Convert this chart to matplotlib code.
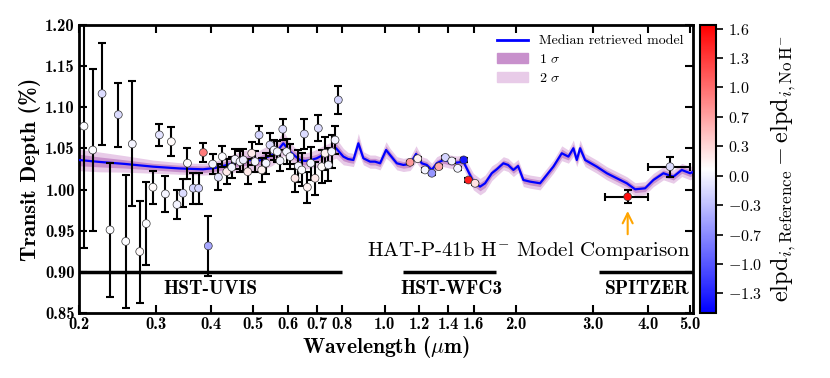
import numpy as np
import matplotlib
matplotlib.use("Agg")
import matplotlib.pyplot as plt
from matplotlib.colors import Normalize
from matplotlib.lines import Line2D
from matplotlib.patches import Patch

plt.rcParams['font.family'] = ['cmr10']
plt.rcParams['mathtext.fontset'] = 'cm'
plt.rcParams['axes.formatter.use_mathtext'] = True
plt.rcParams['axes.unicode_minus'] = False

# ---------------- data ----------------
# Median retrieved model (wavelength in micron, transit depth in %)
model_wl = [0.200, 0.2234, 0.2549, 0.2954, 0.3405, 0.3844, 0.4095, 0.4362, 0.4671, 0.4924,
            0.5109, 0.5329, 0.5529, 0.5707, 0.5868, 0.5984, 0.6079, 0.6241, 0.6408, 0.6579,
            0.679, 0.6997, 0.7234, 0.7505, 0.7747, 0.805, 0.8252, 0.8486, 0.8712, 0.8945,
            0.9266, 0.9513, 0.9768, 1.0081, 1.0296, 1.0666, 1.1043, 1.144, 1.1807, 1.2167,
            1.2491, 1.2825, 1.3167, 1.3633, 1.4123, 1.4631, 1.5149, 1.5553, 1.5969, 1.6543,
            1.6984, 1.7594, 1.8063, 1.8702, 1.9172, 1.9714, 2.021, 2.078, 2.1528, 2.2692,
            2.4338, 2.544, 2.634, 2.7044, 2.7532, 2.8016, 2.8766, 3.0594, 3.225, 3.4,
            3.5836, 3.7436, 3.946, 4.122, 4.3456, 4.58, 4.787, 5.002, 5.08]
model_depth = [1.0359, 1.0335, 1.0311, 1.0278, 1.0256, 1.0246, 1.0262, 1.0299, 1.0339, 1.0359,
               1.0339, 1.0384, 1.0420, 1.0480, 1.0562, 1.0505, 1.0460, 1.0408, 1.0359, 1.0347,
               1.0359, 1.0380, 1.0420, 1.0460, 1.0502, 1.0400, 1.0371, 1.0359, 1.0562, 1.0380,
               1.0339, 1.0339, 1.0319, 1.0481, 1.0420, 1.0319, 1.0299, 1.0311, 1.0432, 1.0319,
               1.0299, 1.0238, 1.0319, 1.0359, 1.0339, 1.0327, 1.0339, 1.0217, 1.0096, 1.0035,
               1.0076, 1.0198, 1.0246, 1.0319, 1.0299, 1.0238, 1.0286, 1.0116, 1.0096, 1.0076,
               1.0278, 1.0441, 1.0400, 1.0502, 1.0359, 1.0502, 1.0359, 1.0278, 1.0198, 1.0137,
               1.0076, 1.0003, 1.0015, 1.0116, 1.0198, 1.0156, 1.0238, 1.0198, 1.0214]
sigma1 = [0.007, 0.006, 0.005, 0.004, 0.004, 0.004, 0.004, 0.005, 0.005, 0.006,
          0.005, 0.006, 0.006, 0.006, 0.007, 0.006, 0.005, 0.005, 0.005, 0.005,
          0.005, 0.005, 0.005, 0.005, 0.006, 0.005, 0.004, 0.004, 0.006, 0.004,
          0.004, 0.004, 0.004, 0.005, 0.004, 0.004, 0.004, 0.004, 0.005, 0.004,
          0.004, 0.004, 0.004, 0.004, 0.004, 0.004, 0.004, 0.004, 0.005, 0.005,
          0.005, 0.004, 0.004, 0.004, 0.004, 0.004, 0.004, 0.004, 0.004, 0.004,
          0.004, 0.005, 0.004, 0.005, 0.004, 0.005, 0.004, 0.004, 0.004, 0.004,
          0.004, 0.004, 0.004, 0.004, 0.004, 0.004, 0.004, 0.004, 0.004]
sigma2 = [0.013, 0.012, 0.010, 0.008, 0.007, 0.007, 0.008, 0.010, 0.012, 0.013,
          0.012, 0.013, 0.013, 0.013, 0.015, 0.013, 0.011, 0.010, 0.010, 0.010,
          0.010, 0.011, 0.011, 0.011, 0.012, 0.010, 0.008, 0.008, 0.012, 0.008,
          0.008, 0.008, 0.008, 0.010, 0.008, 0.008, 0.008, 0.008, 0.010, 0.008,
          0.008, 0.008, 0.008, 0.008, 0.008, 0.008, 0.008, 0.009, 0.010, 0.010,
          0.010, 0.009, 0.008, 0.008, 0.008, 0.008, 0.008, 0.008, 0.008, 0.008,
          0.008, 0.009, 0.008, 0.010, 0.008, 0.010, 0.008, 0.008, 0.008, 0.008,
          0.008, 0.008, 0.008, 0.008, 0.008, 0.008, 0.008, 0.008, 0.008]

# HST-UVIS observations
uvis_wl = [0.2053, 0.215, 0.2258, 0.2355, 0.246, 0.2558, 0.2648, 0.2754, 0.285, 0.2953,
           0.3054, 0.3152, 0.3253, 0.3351, 0.3459, 0.3541, 0.3651, 0.3756, 0.385, 0.3952,
           0.4045, 0.4167, 0.4255, 0.4355, 0.4471, 0.455, 0.467, 0.4753, 0.4864, 0.4968,
           0.5055, 0.5163, 0.5237, 0.5356, 0.547, 0.5587, 0.5685, 0.5767, 0.585, 0.597,
           0.608, 0.624, 0.635, 0.6466, 0.6555, 0.666, 0.678, 0.6934, 0.7056, 0.7183,
           0.731, 0.744, 0.757, 0.7706, 0.784]
uvis_depth = [1.077, 1.048, 1.1165, 0.951, 1.091, 0.937, 1.0554, 0.9246, 0.9586, 1.0028,
              1.0664, 0.9947, 1.0582, 0.9817, 0.9955, 1.032, 1.0016, 1.0016, 1.045, 0.9315,
              1.031, 1.015, 1.040, 1.0217, 1.027, 1.0368, 1.0339, 1.036, 1.0217, 1.0441,
              1.0339, 1.0663, 1.0238, 1.032, 1.0542, 1.048, 1.046, 1.035, 1.0733, 1.046,
              1.040, 1.0137, 1.0286, 1.0238, 1.0675, 1.0028, 1.032, 1.0137, 1.0745, 1.0278,
              1.0441, 1.0299, 1.046, 1.0602, 1.1089]
uvis_err = [0.148, 0.098, 0.062, 0.081, 0.039, 0.081, 0.076, 0.062, 0.050, 0.020,
            0.013, 0.022, 0.018, 0.018, 0.017, 0.019, 0.019, 0.019, 0.012, 0.036,
            0.012, 0.016, 0.013, 0.015, 0.013, 0.012, 0.013, 0.013, 0.015, 0.014,
            0.013, 0.011, 0.015, 0.013, 0.014, 0.012, 0.013, 0.013, 0.013, 0.015,
            0.015, 0.017, 0.020, 0.020, 0.018, 0.019, 0.020, 0.020, 0.016, 0.020,
            0.020, 0.020, 0.020, 0.017, 0.017]
uvis_elpd = [0.05, 0.05, -0.15, 0.05, -0.15, 0.05, 0.0, 0.1, 0.05, 0.1,
             -0.1, 0.0, 0.1, 0.0, -0.15, 0.1, -0.2, -0.2, 0.9, -0.5,
             0.0, -0.1, 0.05, 0.2, 0.0, 0.0, 0.0, -0.05, 0.2, 0.2,
             0.0, -0.2, 0.15, 0.0, -0.15, 0.0, 0.0, 0.0, -0.15, 0.0,
             0.0, 0.2, 0.0, 0.05, -0.15, 0.15, 0.0, 0.2, -0.15, 0.1,
             0.15, 0.0, 0.0, 0.0, -0.2]

# HST-WFC3 observations
wfc3_wl = [1.144, 1.191, 1.238, 1.283, 1.331, 1.378, 1.425, 1.47, 1.518, 1.556, 1.611]
wfc3_depth = [1.0331, 1.0375, 1.0238, 1.0198, 1.0278, 1.039, 1.0347, 1.0258, 1.036, 1.0116, 1.0076]
wfc3_err = [0.002, 0.002, 0.002, 0.002, 0.002, 0.002, 0.002, 0.002, 0.002, 0.002, 0.002]
wfc3_elpd = [0.7, 0.15, 0.0, -0.6, 0.6, -0.2, 0.0, 0.0, -1.4, 1.5, 0.25]

# Spitzer observations
spitzer_wl = [3.6, 4.5]
spitzer_wl_lo = [3.2, 4.0]
spitzer_wl_hi = [4.0, 5.0]
spitzer_depth = [0.9913, 1.0278]
spitzer_err = [0.008, 0.012]
spitzer_elpd = [1.6, -0.15]

# instruments (name, start, end)
instr_names = ['HST-UVIS', 'HST-WFC3', 'SPITZER']
instr_start = [0.2, 1.1, 3.1]
instr_end = [0.8, 1.8, 5.08]

xtick_vals = [0.2, 0.3, 0.4, 0.5, 0.6, 0.7, 0.8, 1.0, 1.2, 1.4, 1.6, 2.0, 3.0, 4.0, 5.0]
ytick_vals = [0.85, 0.90, 0.95, 1.00, 1.05, 1.10, 1.15, 1.20]
cbar_labels = ['1.6', '1.3', '1.0', '0.7', '0.3', '0.0', '-0.3', '-0.7', '-1.0', '-1.3']

# ---------------- figure ----------------
fig = plt.figure(figsize=(8.3, 3.78), dpi=100)
ax = fig.add_axes([0.0952, 0.172, 0.7398, 0.762])
cax = fig.add_axes([0.8434, 0.172, 0.0193, 0.762])

norm = Normalize(vmin=-1.55, vmax=1.68)
cmap = plt.get_cmap('bwr')

mw = np.array(model_wl)
md = np.array(model_depth)
s1 = np.array(sigma1)
s2 = np.array(sigma2)
c1 = '#c890cc'
c2 = '#e8cbe8'
ax.fill_between(mw, md - s2, md + s2, color=c2, lw=0, zorder=1)
ax.fill_between(mw, md - s1, md + s1, color=c1, lw=0, zorder=2)
ax.plot(mw, md, color='#0000ff', lw=1.6, zorder=3)

# instrument lines
for name, a, b in zip(instr_names, instr_start, instr_end):
    ax.plot([a, b], [0.90, 0.90], color='black', lw=2.5, zorder=4, solid_capstyle='butt')
ax.text(0.4, 0.879, 'HST-UVIS', fontfamily='cmb10', fontsize=14, ha='center', va='center')
ax.text(1.42, 0.879, 'HST-WFC3', fontfamily='cmb10', fontsize=14, ha='center', va='center')
ax.text(5.0, 0.879, 'SPITZER', fontfamily='cmb10', fontsize=14, ha='right', va='center')
ax.text(5.0, 0.925, r'HAT-P-41b H$^{-}$ Model Comparison', fontsize=15, ha='right', va='center')

ekw = dict(fmt='none', ecolor='black', elinewidth=1.5, capsize=3, capthick=1.5, zorder=5)
ax.errorbar(uvis_wl, uvis_depth, yerr=uvis_err, **ekw)
ax.errorbar(wfc3_wl, wfc3_depth, yerr=wfc3_err, **ekw)
sw = np.array(spitzer_wl)
xerr = [sw - np.array(spitzer_wl_lo), np.array(spitzer_wl_hi) - sw]
ax.errorbar(spitzer_wl, spitzer_depth, yerr=spitzer_err, xerr=xerr, **ekw)

skw = dict(cmap=cmap, norm=norm, s=32, edgecolors='#333333', linewidths=0.5, zorder=6)
ax.scatter(uvis_wl, uvis_depth, c=uvis_elpd, **skw)
ax.scatter(wfc3_wl, wfc3_depth, c=wfc3_elpd, **skw)
sc = ax.scatter(spitzer_wl, spitzer_depth, c=spitzer_elpd, **skw)

# arrow pointing at the first Spitzer point
ax.annotate('', xy=(spitzer_wl[0], spitzer_depth[0] - 0.014), xytext=(spitzer_wl[0], spitzer_depth[0] - 0.049),
            arrowprops=dict(arrowstyle='->', color='orange', lw=1.5, mutation_scale=18), zorder=7)

ax.set_xscale('log')
ax.set_xlim(0.2, 5.08)
ax.set_ylim(0.85, 1.20)
ax.set_xticks(xtick_vals)
ax.set_xticklabels(['%.1f' % v for v in xtick_vals], fontfamily='cmb10', fontsize=12)
ax.xaxis.set_minor_locator(matplotlib.ticker.NullLocator())
ax.set_yticks(ytick_vals)
ax.set_yticklabels(['%.2f' % v for v in ytick_vals], fontfamily='cmb10', fontsize=12)
ax.tick_params(which='both', direction='in', top=True, right=True, length=6, width=1.5, pad=3)
for sp in ax.spines.values():
    sp.set_linewidth(2)
ax.set_xlabel(r'Wavelength ($\mu$m)', fontfamily='cmb10', fontsize=15.5, labelpad=1)
ax.set_ylabel('Transit Depth (%)', fontfamily='cmb10', fontsize=16, labelpad=3)

handles = [Line2D([], [], color='#0000ff', lw=2),
           Patch(color=c1), Patch(color=c2)]
ax.legend(handles, ['Median retrieved model', r'1 $\sigma$', r'2 $\sigma$'],
          loc='upper right', frameon=False, fontsize=10, handlelength=2.2,
          borderaxespad=0.3, labelspacing=0.4)

cb = fig.colorbar(sc, cax=cax)
ticks = np.linspace(1.64, -1.33, len(cbar_labels))
cb.set_ticks(ticks)
cb.set_ticklabels(['$' + l + '$' for l in cbar_labels], fontsize=11.5)
cb.ax.tick_params(direction='out', length=5, width=1.2)
cb.outline.set_linewidth(1.5)
cb.set_label(r'$\mathrm{elpd}_{i,\mathrm{Reference}} - \mathrm{elpd}_{i,\mathrm{No\,H^{-}}}$', fontsize=17.5, labelpad=4)

fig.savefig('out.png', dpi=100)
